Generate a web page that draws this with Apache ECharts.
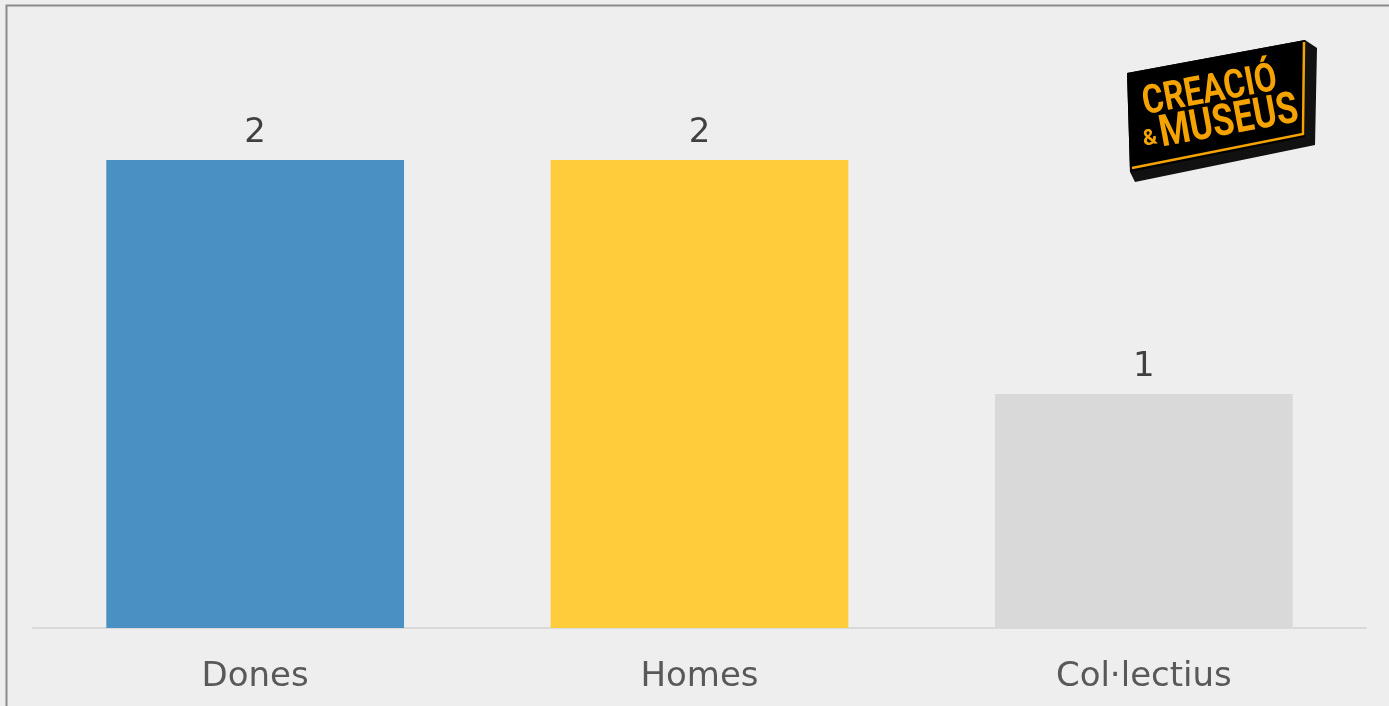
<!DOCTYPE html>
<html><head><meta charset="utf-8">
<style>html,body{margin:0;padding:0;background:#eeeeee;}#c{width:1389px;height:706px;}</style>
<script src="https://cdn.jsdelivr.net/npm/echarts@6/dist/echarts.min.js"></script>
</head><body><div id="c"></div>
<script>
const categories = ['Dones', 'Homes', 'Col·lectius'];
const values = [2, 2, 1];
const barColors = ['#4a90c2', '#ffcd3c', '#d9d9d9'];

const chart = echarts.init(document.getElementById('c'));
const rot = 10.5 * Math.PI / 180;
const logoFont = '"Liberation Sans Narrow", "Roboto", sans-serif';
chart.setOption({
  backgroundColor: '#eeeeee',
  animation: false,
  grid: { left: 33, right: 23, top: 43, bottom: 78 },
  xAxis: {
    type: 'category', data: categories,
    axisLine: { lineStyle: { color: '#d9d9d9', width: 2 } },
    axisTick: { show: false },
    axisLabel: { color: '#595959', fontSize: 34, fontFamily: 'DejaVu Sans', margin: 32 }
  },
  yAxis: { type: 'value', min: 0, max: 2.5, show: false, splitLine: { show: false } },
  series: [{
    type: 'bar', barWidth: '67%',
    data: values.map((v, i) => ({ value: v, itemStyle: { color: barColors[i] } })),
    label: { show: true, position: 'top', distance: 10, color: '#404040', fontSize: 34, fontFamily: 'DejaVu Sans' }
  }],
  graphic: [
    { type: 'polyline', z: 100, shape: { points: [[6.5, 706], [6.5, 5.5], [1389, 5.5]] }, style: { stroke: '#8a8a8a', lineWidth: 2, fill: null } },
    { type: 'polygon', z: 100, shape: { points: [[1127, 73], [1305, 40], [1317, 48], [1315, 145], [1135, 182], [1130, 172]] }, style: { fill: '#111111' } },
    { type: 'polygon', z: 101, shape: { points: [[1127, 73], [1305, 40], [1305, 137], [1130, 172]] }, style: { fill: '#000000' } },
    { type: 'polyline', z: 102, shape: { points: [[1132, 168], [1303, 134], [1304, 42]] }, style: { stroke: '#f5a300', lineWidth: 2.5, fill: null } },
    { type: 'text', z: 103, x: 1210, y: 92, rotation: rot, scaleX: 0.82, style: { text: 'CREACIÓ', fill: '#f5a300', font: 'bold 40px ' + logoFont, align: 'center', verticalAlign: 'middle' } },
    { type: 'text', z: 103, x: 1150, y: 139, rotation: rot, style: { text: '&', fill: '#f5a300', font: 'bold 22px ' + logoFont, align: 'center', verticalAlign: 'middle' } },
    { type: 'text', z: 103, x: 1229, y: 123, rotation: rot, scaleX: 0.8, style: { text: 'MUSEUS', fill: '#f5a300', font: 'bold 44px ' + logoFont, align: 'center', verticalAlign: 'middle' } }
  ]
});
</script></body></html>
